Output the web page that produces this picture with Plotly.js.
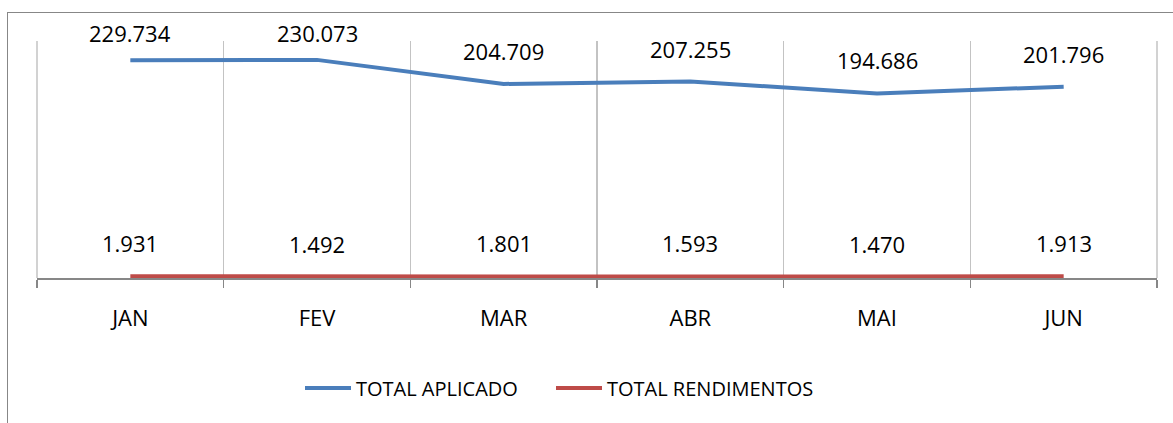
<!DOCTYPE html>
<html>
<head>
<meta charset="utf-8">
<script src="https://cdn.plot.ly/plotly-3.0.1.min.js"></script>
<style>
  html, body { margin: 0; padding: 0; background: #ffffff; }
  #wrap { position: relative; width: 1173px; height: 423px; overflow: hidden; }
  #frame { position: absolute; left: 7px; top: 12px; width: 1200px; height: 500px;
           border-left: 1.5px solid #878787; border-top: 1.5px solid #878787; }
  #chart { position: absolute; left: 0; top: 0; width: 1173px; height: 423px; }
</style>
</head>
<body>
<div id="wrap">
  <div id="frame"></div>
  <div id="chart"></div>
</div>
<script>
const months = ["JAN", "FEV", "MAR", "ABR", "MAI", "JUN"];
const totalAplicado = [229.734, 230.073, 204.709, 207.255, 194.686, 201.796];
const totalRendimentos = [1.931, 1.492, 1.801, 1.593, 1.470, 1.913];
const seriesNames = ["TOTAL APLICADO", "TOTAL RENDIMENTOS"];

const W = 1173, H = 423;
const M = { l: 37, r: 16, t: 41, b: 145 };
const yMax = 250;
const plotW = W - M.l - M.r;
const plotH = H - M.t - M.b;
const FONT = "Open Sans, sans-serif";
const GRID = "#c3c3c3";

function fmt(v) { return v.toFixed(3); }
function px2paperX(px) { return (px - M.l) / plotW; }

const annotations = [];
[totalAplicado, totalRendimentos].forEach(function (arr) {
  arr.forEach(function (v, i) {
    const py = M.t + (yMax - v) / yMax * plotH;
    const labelY = Math.max(py - 33, 33);
    annotations.push({
      x: months[i], y: v, xref: "x", yref: "y",
      text: fmt(v), showarrow: false,
      xanchor: "center", yanchor: "middle",
      yshift: py - labelY,
      font: { family: FONT, size: 22, color: "#000000" }
    });
  });
});

// edge gridlines at the plot's left and right edges (Plotly omits these)
const shapes = [0, 1].map(function (b) {
  return { type: "line", xref: "paper", yref: "paper", x0: b, x1: b, y0: 0, y1: 1,
           line: { color: GRID, width: 1.5 }, layer: "below" };
});

const traces = [
  { x: months, y: totalAplicado, name: seriesNames[0], type: "scatter", mode: "lines",
    line: { color: "#4a7ebb", width: 4 }, hoverinfo: "skip", legend: "legend" },
  { x: months, y: totalRendimentos, name: seriesNames[1], type: "scatter", mode: "lines",
    line: { color: "#be4b48", width: 4 }, hoverinfo: "skip", legend: "legend2" }
];

const legendY = (M.t + plotH - 388) / plotH;
function legendAt(px) {
  return {
    orientation: "h", x: px2paperX(px), xanchor: "left", y: legendY, yanchor: "middle",
    font: { family: FONT, size: 20, color: "#000000" },
    itemwidth: 46, bgcolor: "rgba(0,0,0,0)"
  };
}

const layout = {
  width: W, height: H,
  margin: M,
  paper_bgcolor: "rgba(0,0,0,0)",
  plot_bgcolor: "rgba(0,0,0,0)",
  font: { family: FONT, size: 20, color: "#000000" },
  showlegend: true,
  legend: legendAt(300),
  legend2: legendAt(551),
  xaxis: {
    type: "category", range: [-0.5, 5.5], tickson: "boundaries",
    showgrid: true, gridcolor: GRID, gridwidth: 1.5,
    showline: true, linecolor: "#878787", linewidth: 2,
    ticks: "outside", ticklen: 8, tickcolor: "#878787", tickwidth: 1.5,
    ticklabelstandoff: 20,
    tickfont: { family: FONT, size: 22, color: "#000000" },
    zeroline: false, fixedrange: true
  },
  yaxis: {
    range: [0, yMax], showgrid: false, zeroline: false, showline: false,
    showticklabels: false, ticks: "", fixedrange: true
  },
  shapes: shapes,
  annotations: annotations
};

Plotly.newPlot("chart", traces, layout, { staticPlot: true, displayModeBar: false });
</script>
</body>
</html>
